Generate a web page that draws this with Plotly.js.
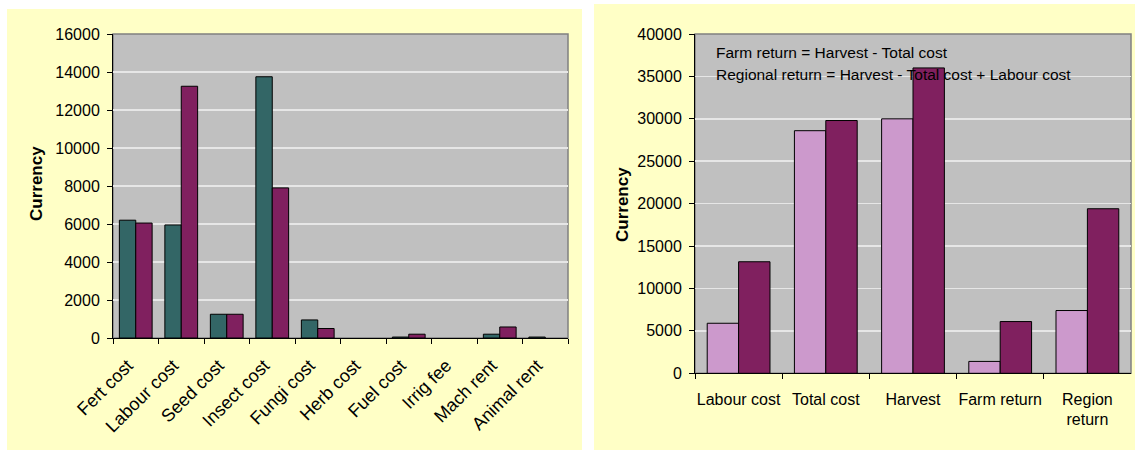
<!DOCTYPE html>
<html>
<head>
<meta charset="utf-8">
<script src="https://cdn.plot.ly/plotly-3.0.1.min.js"></script>
<style>html,body{margin:0;padding:0;background:#fff;}#chart{width:1135px;height:450px;}</style>
</head>
<body>
<div id="chart"></div>
<script>
// ---- data ----
const costCats = ['Fert cost','Labour cost','Seed cost','Insect cost','Fungi cost','Herb cost','Fuel cost','Irrig fee','Mach rent','Animal rent'];
const costA = [6200, 5950, 1250, 13750, 950, 0, 50, 0, 200, 50];
const costB = [6050, 13250, 1250, 7900, 500, 0, 200, 0, 580, 0];
const sumCats = ['Labour cost','Total cost','Harvest','Farm return','Region<br>return'];
const sumA = [5900, 28600, 30000, 1400, 7400];
const sumB = [13150, 29800, 36000, 6100, 19400];
const noteLines = ['Farm return = Harvest - Total cost', 'Regional return = Harvest - Total cost + Labour cost'];
const yTitle = 'Currency';

// ---- layout helpers ----
const W = 1135, H = 450;
const px = v => v / W;
const py = v => (H - v) / H;
const FONT = '"Liberation Sans", Arial, sans-serif';
const TEAL = '#336666', PLUM = '#80205F', LILAC = '#CC99CC';
// zero-height bars show no outline (as in the reference)
const outline = vals => ({color: '#000', width: vals.map(v => (v ? 1 : 0))});

const traces = [
  {type: 'bar', x: costCats, y: costA, xaxis: 'x', yaxis: 'y', marker: {color: TEAL, line: outline(costA)}, hoverinfo: 'skip'},
  {type: 'bar', x: costCats, y: costB, xaxis: 'x', yaxis: 'y', marker: {color: PLUM, line: outline(costB)}, hoverinfo: 'skip'},
  {type: 'bar', x: sumCats, y: sumA, xaxis: 'x2', yaxis: 'y2', marker: {color: LILAC, line: outline(sumA)}, hoverinfo: 'skip'},
  {type: 'bar', x: sumCats, y: sumB, xaxis: 'x2', yaxis: 'y2', marker: {color: PLUM, line: outline(sumB)}, hoverinfo: 'skip'}
];

const TICKFONT = {size: 16, color: '#000', family: FONT};
const yBase = {
  showline: true, linecolor: '#000', linewidth: 1,
  ticks: 'outside', ticklen: 5, tickcolor: '#000', tickwidth: 1,
  showgrid: true, gridcolor: '#E6E6E6', gridwidth: 1.5,
  zeroline: false, tickfont: TICKFONT, tickformat: 'd',
  ticklabelstandoff: 4, fixedrange: true
};
const xBase = {
  type: 'category', showline: true, linecolor: '#000', linewidth: 1,
  ticks: 'outside', ticklen: 5, tickcolor: '#000', tickwidth: 1, tickson: 'boundaries',
  showgrid: false, zeroline: false, tickfont: TICKFONT, fixedrange: true
};

const layout = {
  width: W, height: H,
  margin: {l: 0, r: 0, t: 0, b: 0, autoexpand: false},
  paper_bgcolor: '#fff', plot_bgcolor: 'rgba(0,0,0,0)',
  showlegend: false, barmode: 'group', bargap: 0.28, bargroupgap: 0,
  font: {family: FONT, color: '#000', size: 15},
  xaxis: Object.assign({}, xBase, {domain: [px(113), px(568)], anchor: 'y', tickangle: -45, ticklabelstandoff: 9, ticklabelshift: -8,
    tickfont: {size: 18, color: '#000', family: FONT}}),
  yaxis: Object.assign({}, yBase, {domain: [py(338), py(34)], anchor: 'x', range: [0, 16000], dtick: 2000}),
  xaxis2: Object.assign({}, xBase, {domain: [px(695), px(1131)], anchor: 'y2', tickangle: 0, ticklabelstandoff: 11}),
  yaxis2: Object.assign({}, yBase, {domain: [py(373.3), py(34)], anchor: 'x2', range: [0, 40000], dtick: 5000}),
  shapes: [
    {type: 'rect', layer: 'below', xref: 'paper', yref: 'paper', x0: px(7), x1: px(582), y0: 0, y1: py(9), fillcolor: '#FFFFC6', line: {width: 0}},
    {type: 'rect', layer: 'below', xref: 'paper', yref: 'paper', x0: px(594), x1: 1, y0: 0, y1: py(4), fillcolor: '#FFFFC6', line: {width: 0}},
    {type: 'rect', layer: 'below', xref: 'x domain', yref: 'y domain', x0: 0, x1: 1, y0: 0, y1: 1, fillcolor: '#C0C0C0', line: {color: '#808080', width: 1.5}},
    {type: 'rect', layer: 'below', xref: 'x2 domain', yref: 'y2 domain', x0: 0, x1: 1, y0: 0, y1: 1, fillcolor: '#C0C0C0', line: {color: '#808080', width: 1.5}}
  ],
  annotations: [
    {text: '<b>' + yTitle + '</b>', xref: 'paper', yref: 'paper', x: px(36), y: py(184), textangle: -90, showarrow: false, font: {size: 17, color: '#000', family: FONT}, xanchor: 'center', yanchor: 'middle'},
    {text: '<b>' + yTitle + '</b>', xref: 'paper', yref: 'paper', x: px(622), y: py(205), textangle: -90, showarrow: false, font: {size: 17, color: '#000', family: FONT}, xanchor: 'center', yanchor: 'middle'},
    {text: noteLines[0], xref: 'paper', yref: 'paper', x: px(714), y: py(53), xanchor: 'left', yanchor: 'middle', showarrow: false, font: {size: 15.5, color: '#000', family: FONT}},
    {text: noteLines[1], xref: 'paper', yref: 'paper', x: px(714), y: py(75), xanchor: 'left', yanchor: 'middle', showarrow: false, font: {size: 15.5, color: '#000', family: FONT}}
  ]
};

Plotly.newPlot('chart', traces, layout, {staticPlot: true, displayModeBar: false});
</script>
</body>
</html>
